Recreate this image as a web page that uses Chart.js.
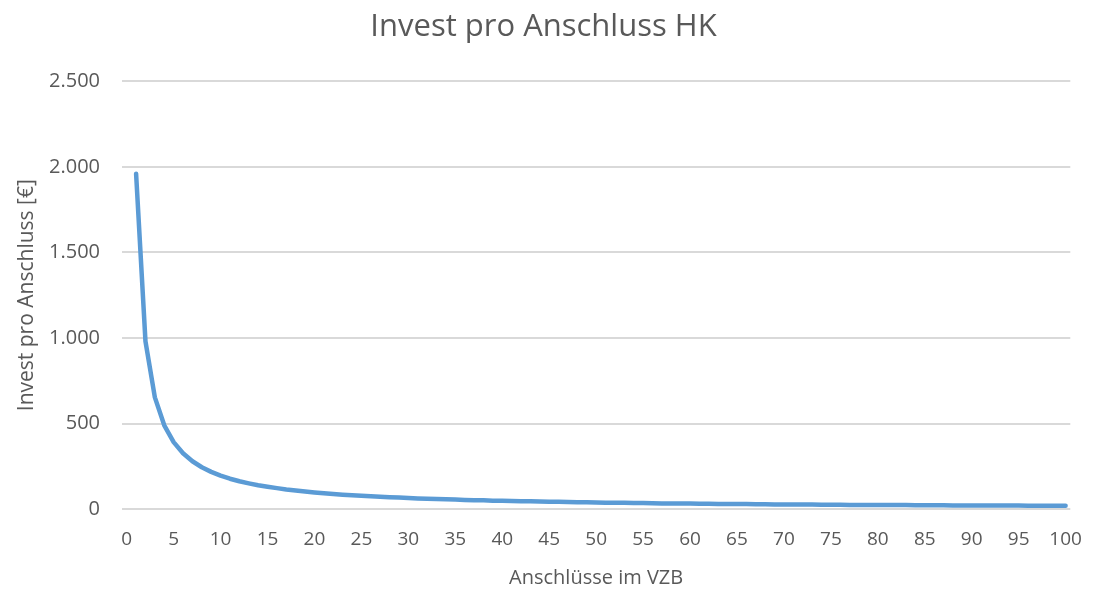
<!DOCTYPE html>
<html>
<head>
<meta charset="utf-8">
<script src="https://cdn.jsdelivr.net/npm/chart.js@4"></script>
<style>
    html, body { margin: 0; padding: 0; background: #ffffff; }
    #wrap { width: 1093px; height: 590px; }
</style>
</head>
<body>
<div id="wrap"><canvas id="myChart"></canvas></div>
<script>
// Anschlüsse im VZB (0..100), 0 has no value
const anschluesse = []
for (let i = 0; i <= 100; i++) anschluesse.push(String(i))

// Invest pro Anschluss [€], index 0 = 0 Anschlüsse
const invest = [null,
    1960, 980, 653, 490, 392, 327, 280, 245, 218, 196,
    178, 163, 151, 140, 131, 123, 115, 109, 103, 98,
    93, 89, 85, 82, 78, 75, 73, 70, 68, 65,
    63, 61, 59, 58, 56, 54, 53, 52, 50, 49,
    48, 47, 46, 45, 44, 43, 42, 41, 40, 39,
    38, 38, 37, 36, 36, 35, 34, 34, 33, 33,
    32, 32, 31, 31, 30, 30, 29, 29, 28, 28,
    28, 27, 27, 26, 26, 26, 25, 25, 25, 24,
    24, 24, 24, 23, 23, 23, 23, 22, 22, 22,
    22, 21, 21, 21, 21, 20, 20, 20, 20, 20]

const yTicks = [0, 500, 1000, 1500, 2000, 2500]

const textColor = '#595959'
const gridColor = '#d9d9d9'
const fontFamily = "'Open Sans', sans-serif"

const ctx = document.getElementById('myChart').getContext('2d')
const chart = new Chart(ctx, {
    type: 'line',
    data: {
        labels: anschluesse,
        datasets: [{
            label: 'Invest pro Anschluss',
            data: invest,
            borderColor: '#5b9bd5',
            borderWidth: 4.5,
            pointRadius: 0,
            tension: 0,
            fill: false,
            borderCapStyle: 'round',
            borderJoinStyle: 'round'
        }]
    },
    options: {
        responsive: true,
        maintainAspectRatio: false,
        animation: false,
        layout: {
            padding: { left: 14, right: 20, top: 4, bottom: 0 }
        },
        plugins: {
            legend: { display: false },
            tooltip: { enabled: false },
            title: {
                display: true,
                text: 'Invest pro Anschluss HK',
                color: textColor,
                font: { family: fontFamily, size: 31, weight: 'normal' },
                padding: { top: 5, bottom: 35 }
            }
        },
        scales: {
            x: {
                type: 'category',
                offset: true,
                grid: { display: false },
                border: { display: false },
                ticks: {
                    color: textColor,
                    autoSkip: false,
                    maxRotation: 0,
                    padding: 11,
                    font: { family: fontFamily, size: 19 },
                    callback: function (value, index) {
                        return index % 5 === 0 ? anschluesse[index] : ''
                    }
                },
                title: {
                    display: true,
                    text: 'Anschlüsse im VZB',
                    color: textColor,
                    font: { family: fontFamily, size: 20 },
                    padding: { top: 4, bottom: 0 }
                }
            },
            y: {
                min: 0,
                max: 2500,
                afterBuildTicks: function (axis) {
                    axis.ticks = yTicks.map(v => ({ value: v }))
                },
                afterFit: function (axis) {
                    axis.width = 108
                },
                grid: {
                    color: gridColor,
                    lineWidth: 2,
                    drawTicks: false
                },
                border: { display: false },
                ticks: {
                    color: textColor,
                    padding: 22,
                    font: { family: fontFamily, size: 20 },
                    callback: function (value) {
                        return value.toLocaleString('de-DE')
                    }
                },
                title: {
                    display: true,
                    text: 'Invest pro Anschluss [€]',
                    color: textColor,
                    font: { family: fontFamily, size: 21 },
                    padding: { top: 0, bottom: 4 }
                }
            }
        }
    }
})
</script>
</body>
</html>
